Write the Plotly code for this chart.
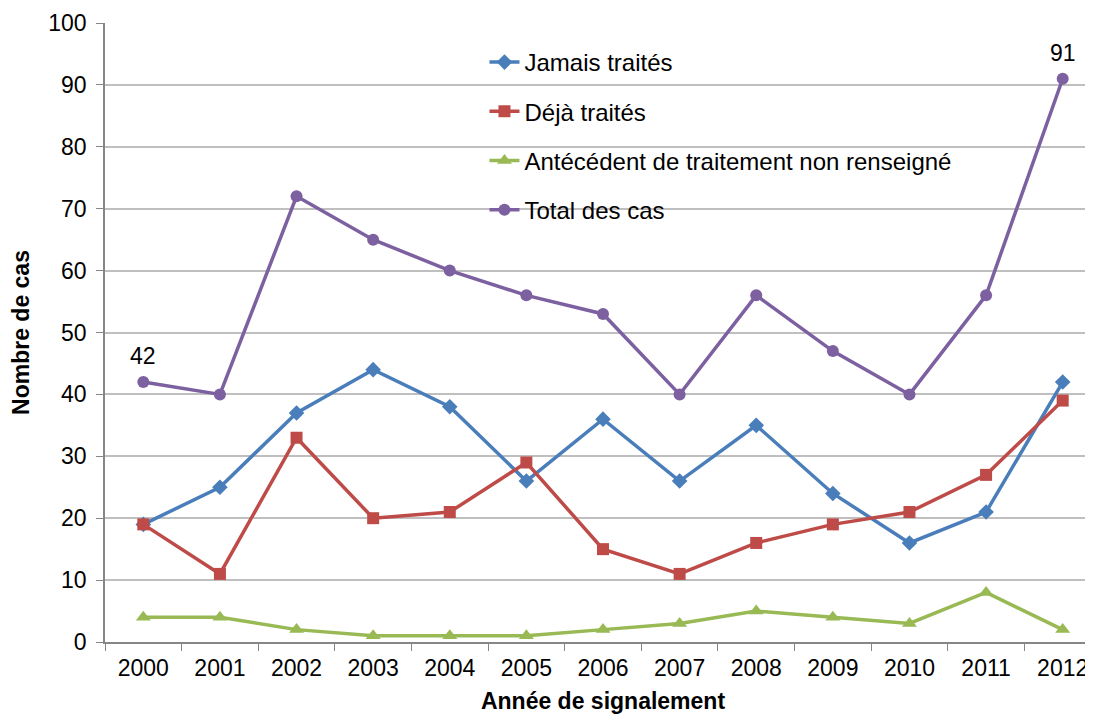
import plotly.graph_objects as go

years = [str(y) for y in range(2000, 2013)]
jamais = [19, 25, 37, 44, 38, 26, 36, 26, 35, 24, 16, 21, 42]
deja = [19, 11, 33, 20, 21, 29, 15, 11, 16, 19, 21, 27, 39]
non_renseigne = [4, 4, 2, 1, 1, 1, 2, 3, 5, 4, 3, 8, 2]
total = [42, 40, 72, 65, 60, 56, 53, 40, 56, 47, 40, 56, 91]

series = [
    ("Jamais traités", jamais, "#4A7EBB", "diamond", 12),
    ("Déjà traités", deja, "#BE4B48", "square", 12),
    ("Antécédent de traitement non renseigné", non_renseigne, "#98B954", "triangle-up", 13),
    ("Total des cas", total, "#7D60A0", "circle", 12),
]

fig = go.Figure()
for i, (name, vals, col, sym, sz) in enumerate(series):
    fig.add_trace(go.Scatter(
        x=years, y=vals, name=name, mode="lines+markers",
        line=dict(color=col, width=3.5),
        marker=dict(symbol=sym, size=sz, color=col),
        legendgroup=str(i),
    ))

# labels on first and last total (category index positions)
for idx in (0, len(years) - 1):
    fig.add_annotation(x=idx, y=total[idx], text=str(total[idx]), showarrow=False,
                       yshift=26, font=dict(size=23, color="black"))

fig.update_layout(
    width=1093, height=717,
    margin=dict(l=97, r=0, t=15, b=83),
    paper_bgcolor="white", plot_bgcolor="white",
    font=dict(family="Liberation Sans, Arial", size=23, color="black"),
    legend=dict(x=0.381, y=0.9725, xanchor="left", yanchor="top",
                bgcolor="rgba(0,0,0,0)", tracegroupgap=15,
                font=dict(size=24)),
)
fig.update_xaxes(
    type="category", range=[-0.5, 12.5], automargin=False,
    showline=True, linecolor="#868686", linewidth=1.5,
    ticks="outside", tickson="boundaries", ticklen=7, tickcolor="#868686",
    ticklabelstandoff=5,
    showgrid=False,
    title=dict(text="<b>Année de signalement</b>", font=dict(size=23), standoff=13),
)
fig.update_yaxes(
    range=[0, 100], dtick=10, automargin=False,
    showline=True, linecolor="#868686", linewidth=1.5,
    ticks="outside", ticklen=7, tickcolor="#868686",
    ticklabelstandoff=5,
    gridcolor="#BFBFBF", gridwidth=1.5, zeroline=False,
    title=dict(text="<b>Nombre de cas</b>", font=dict(size=23), standoff=14),
)

fig.write_html("out.html")
